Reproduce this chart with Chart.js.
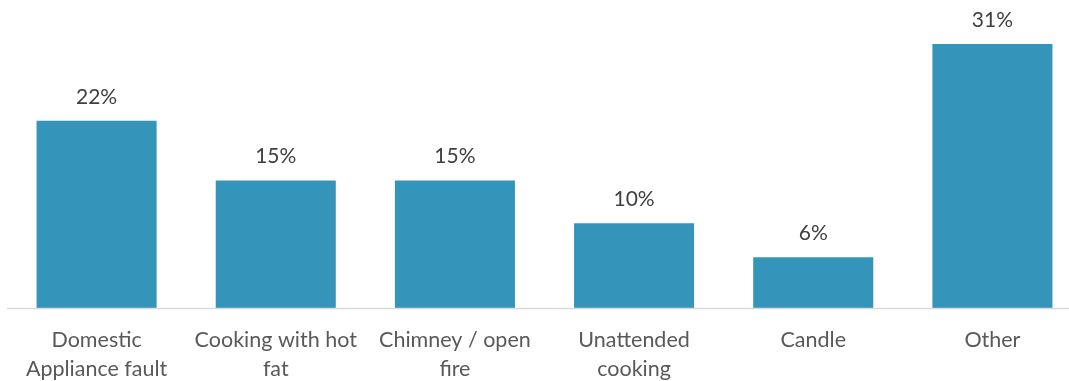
<!DOCTYPE html>
<html>
<head>
<meta charset="utf-8">
<script src="https://cdn.jsdelivr.net/npm/chart.js@4"></script>
<style>
  html, body { margin: 0; padding: 0; background: #fff; overflow: hidden; }
  #wrap { width: 1082px; height: 381px; }
</style>
</head>
<body>
<div id="wrap"><canvas id="myChart"></canvas></div>
<script>
// fire causes, share of incidents (%)
var causes = [
  ['Domestic', 'Appliance fault'],
  ['Cooking with hot', 'fat'],
  ['Chimney / open', 'fire'],
  ['Unattended', 'cooking'],
  'Candle',
  'Other'
];
var shares = [22, 15, 15, 10, 6, 31];

// value labels above the bars + x axis line
var barLabels = {
  id: 'barLabels',
  afterDatasetsDraw: function (chart) {
    var ctx = chart.ctx;
    var area = chart.chartArea;
    var y0 = chart.scales.y.getPixelForValue(0);
    ctx.save();
    ctx.strokeStyle = '#d9d9d9';
    ctx.lineWidth = 1.5;
    ctx.beginPath();
    ctx.moveTo(area.left, y0);
    ctx.lineTo(area.right, y0);
    ctx.stroke();

    ctx.fillStyle = '#404040';
    ctx.font = '21px Lato';
    ctx.textAlign = 'center';
    ctx.textBaseline = 'middle';
    chart.getDatasetMeta(0).data.forEach(function (bar, i) {
      ctx.fillText(shares[i] + '%', bar.x, bar.y - 24);
    });
    ctx.restore();
  }
};

var ctx = document.getElementById('myChart');
var myChart = new Chart(ctx, {
  type: 'bar',
  data: {
    labels: causes,
    datasets: [{
      data: shares,
      backgroundColor: '#3494ba',
      categoryPercentage: 1,
      barPercentage: 0.67
    }]
  },
  options: {
    responsive: true,
    maintainAspectRatio: false,
    animation: false,
    layout: { padding: { left: 7, right: 0, top: 10, bottom: -19.5 } },
    plugins: {
      legend: { display: false },
      tooltip: { enabled: false }
    },
    scales: {
      x: {
        grid: { display: false, drawTicks: false },
        border: { display: false },
        ticks: {
          color: '#595959',
          padding: 17,
          maxRotation: 0,
          autoSkip: false,
          font: { family: 'Lato', size: 21.5, lineHeight: 1.35 }
        }
      },
      y: {
        display: false,
        min: 0,
        max: 35
      }
    }
  },
  plugins: [barLabels]
});
</script>
</body>
</html>
